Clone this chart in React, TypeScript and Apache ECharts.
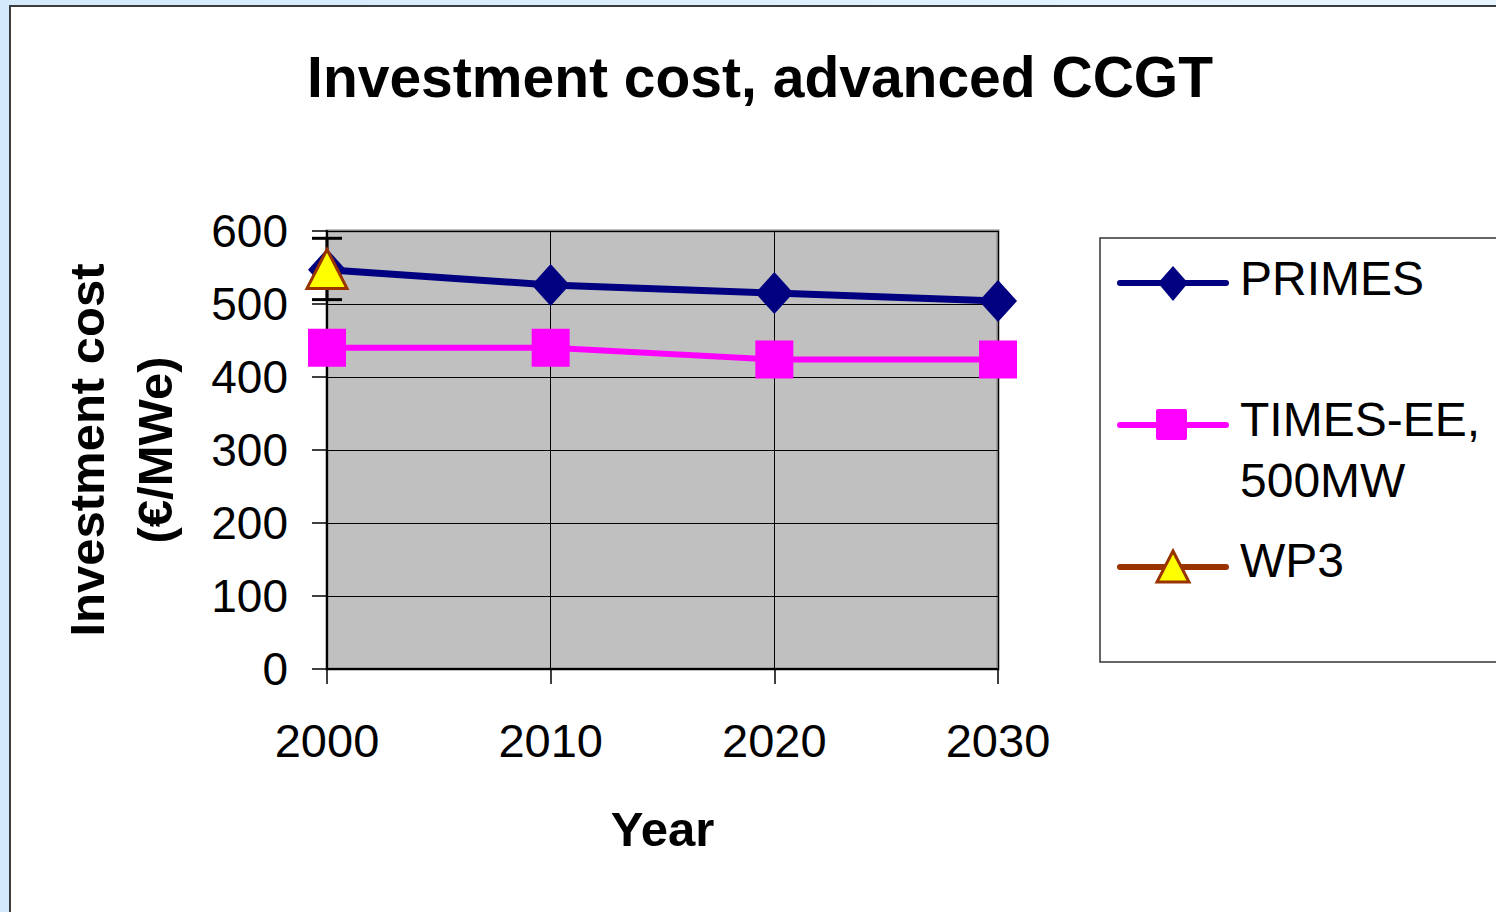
import React, { useEffect, useRef } from "react";
import * as echarts from "echarts";

const years = ["2000", "2010", "2020", "2030"];
const primes = [547, 526, 515, 504];
const timesEE = [440, 440, 424, 424];
const wp3 = [548, null, null, null];
const wp3ErrLow = [506, null, null, null];
const wp3ErrHigh = [590, null, null, null];
const yMin = 0;
const yMax = 600;
const yInterval = 100;

const FONT = "'Liberation Sans', Arial, sans-serif";

export default function App() {
  const ref = useRef<HTMLDivElement>(null);

  useEffect(() => {
    if (!ref.current) return;
    const chart = echarts.init(ref.current, undefined, { renderer: "svg" });

    const errData = years
      .map((_, i) => [i, wp3ErrLow[i], wp3ErrHigh[i]])
      .filter((d) => d[1] != null);

    const option: any = {
      animation: false,
      backgroundColor: "transparent",
      textStyle: { fontFamily: FONT },
      title: {
        text: "Investment cost, advanced CCGT",
        left: 755,
        textAlign: "center",
        top: 43,
        textStyle: { fontFamily: FONT, fontSize: 57, fontWeight: "bold", color: "#000" },
      },
      grid: {
        left: 327,
        top: 231,
        width: 671,
        height: 438,
        containLabel: false,
        outerBoundsMode: "none",
        show: true,
        backgroundColor: "#c0c0c0",
        borderColor: "#808080",
        borderWidth: 3,
      },
      xAxis: {
        type: "category",
        data: years,
        boundaryGap: false,
        name: "Year",
        nameLocation: "middle",
        nameGap: 135,
        nameTextStyle: { fontFamily: FONT, fontSize: 49, fontWeight: "bold", color: "#000" },
        axisLine: { show: true, lineStyle: { color: "#000", width: 2 } },
        axisTick: { show: true, alignWithLabel: true, length: 15, lineStyle: { color: "#000", width: 1.5 } },
        axisLabel: { fontFamily: FONT, fontSize: 47, color: "#000", margin: 48 },
        splitLine: { show: true, lineStyle: { color: "#000", width: 1 } },
      },
      yAxis: {
        type: "value",
        min: yMin,
        max: yMax,
        interval: yInterval,
        name: "Investment cost\n(€/MWe)",
        nameLocation: "middle",
        nameRotate: 90,
        nameGap: 138,
        nameTextStyle: { fontFamily: FONT, fontSize: 49, fontWeight: "bold", color: "#000", lineHeight: 68 },
        axisLine: { show: true, lineStyle: { color: "#000", width: 2 } },
        axisTick: { show: true, length: 15, lineStyle: { color: "#000", width: 1.5 } },
        axisLabel: { fontFamily: FONT, fontSize: 46, color: "#000", margin: 39 },
        splitLine: { show: true, lineStyle: { color: "#000", width: 1 } },
      },
      series: [
        {
          name: "PRIMES",
          type: "line",
          data: primes,
          z: 2,
          symbol: "diamond",
          symbolSize: [38, 42],
          lineStyle: { color: "#000080", width: 7 },
          itemStyle: { color: "#000080" },
        },
        {
          name: "TIMES-EE, 500MW",
          type: "line",
          data: timesEE,
          z: 2,
          symbol: "rect",
          symbolSize: [38, 38],
          lineStyle: { color: "#ff00ff", width: 6 },
          itemStyle: { color: "#ff00ff" },
        },
        {
          name: "WP3 range",
          type: "custom",
          z: 3,
          data: errData,
          renderItem: (params: any, api: any) => {
            const x = api.value(0);
            const lo = api.coord([x, api.value(1)]);
            const hi = api.coord([x, api.value(2)]);
            const hw = 15;
            const st = { stroke: "#000", lineWidth: 3 };
            return {
              type: "group",
              children: [
                { type: "line", shape: { x1: lo[0], y1: lo[1], x2: hi[0], y2: hi[1] }, style: st },
                { type: "line", shape: { x1: lo[0] - hw, y1: lo[1], x2: lo[0] + hw, y2: lo[1] }, style: st },
                { type: "line", shape: { x1: hi[0] - hw, y1: hi[1], x2: hi[0] + hw, y2: hi[1] }, style: st },
              ],
            };
          },
        },
        {
          name: "WP3",
          type: "line",
          data: wp3,
          z: 4,
          symbol: "triangle",
          symbolSize: [40, 39],
          lineStyle: { color: "#993300", width: 6 },
          itemStyle: { color: "#ffff00", borderColor: "#993300", borderWidth: 3 },
        },
      ],
      graphic: [
        {
          type: "rect",
          shape: { x: 1100, y: 238, width: 420, height: 424 },
          style: { fill: "#fff", stroke: "#333", lineWidth: 1.5 },
        },
        // PRIMES legend
        { type: "line", shape: { x1: 1120, y1: 283, x2: 1226, y2: 283 }, style: { stroke: "#000080", lineWidth: 6, lineCap: "round" } },
        { type: "polygon", shape: { points: [[1173, 266], [1188, 283], [1173, 301], [1158, 283]] }, style: { fill: "#000080" } },
        { type: "text", x: 1240, y: 278, style: { text: "PRIMES", font: `48px ${FONT}`, fill: "#000", verticalAlign: "middle" } },
        // TIMES-EE legend
        { type: "line", shape: { x1: 1120, y1: 425, x2: 1226, y2: 425 }, style: { stroke: "#ff00ff", lineWidth: 6, lineCap: "round" } },
        { type: "rect", shape: { x: 1156, y: 409, width: 31, height: 31, r: 2 }, style: { fill: "#ff00ff" } },
        { type: "text", x: 1240, y: 419, style: { text: "TIMES-EE,", font: `48px ${FONT}`, fill: "#000", verticalAlign: "middle" } },
        { type: "text", x: 1240, y: 480, style: { text: "500MW", font: `48px ${FONT}`, fill: "#000", verticalAlign: "middle" } },
        // WP3 legend
        { type: "line", shape: { x1: 1120, y1: 567, x2: 1226, y2: 567 }, style: { stroke: "#993300", lineWidth: 6, lineCap: "round" } },
        { type: "polygon", shape: { points: [[1173, 551], [1189, 582], [1157, 582]] }, style: { fill: "#ffff00", stroke: "#993300", lineWidth: 3 } },
        { type: "text", x: 1240, y: 560, style: { text: "WP3", font: `48px ${FONT}`, fill: "#000", verticalAlign: "middle" } },
      ],
    };

    chart.setOption(option);
    return () => chart.dispose();
  }, []);

  return (
    <div
      style={{
        position: "fixed",
        left: 0,
        top: 0,
        width: 1496,
        height: 912,
        overflow: "hidden",
        background: "linear-gradient(90deg, #d3eafc 0%, #e8f5ff 100%)",
      }}
    >
      <div
        style={{
          position: "absolute",
          left: 9,
          top: 5,
          width: 1520,
          height: 940,
          background: "#fff",
          borderTop: "2px solid #3c3c3c",
          borderLeft: "2px solid #3c3c3c",
        }}
      />
      <div ref={ref} style={{ position: "absolute", left: 0, top: 0, width: 1496, height: 912 }} />
    </div>
  );
}
